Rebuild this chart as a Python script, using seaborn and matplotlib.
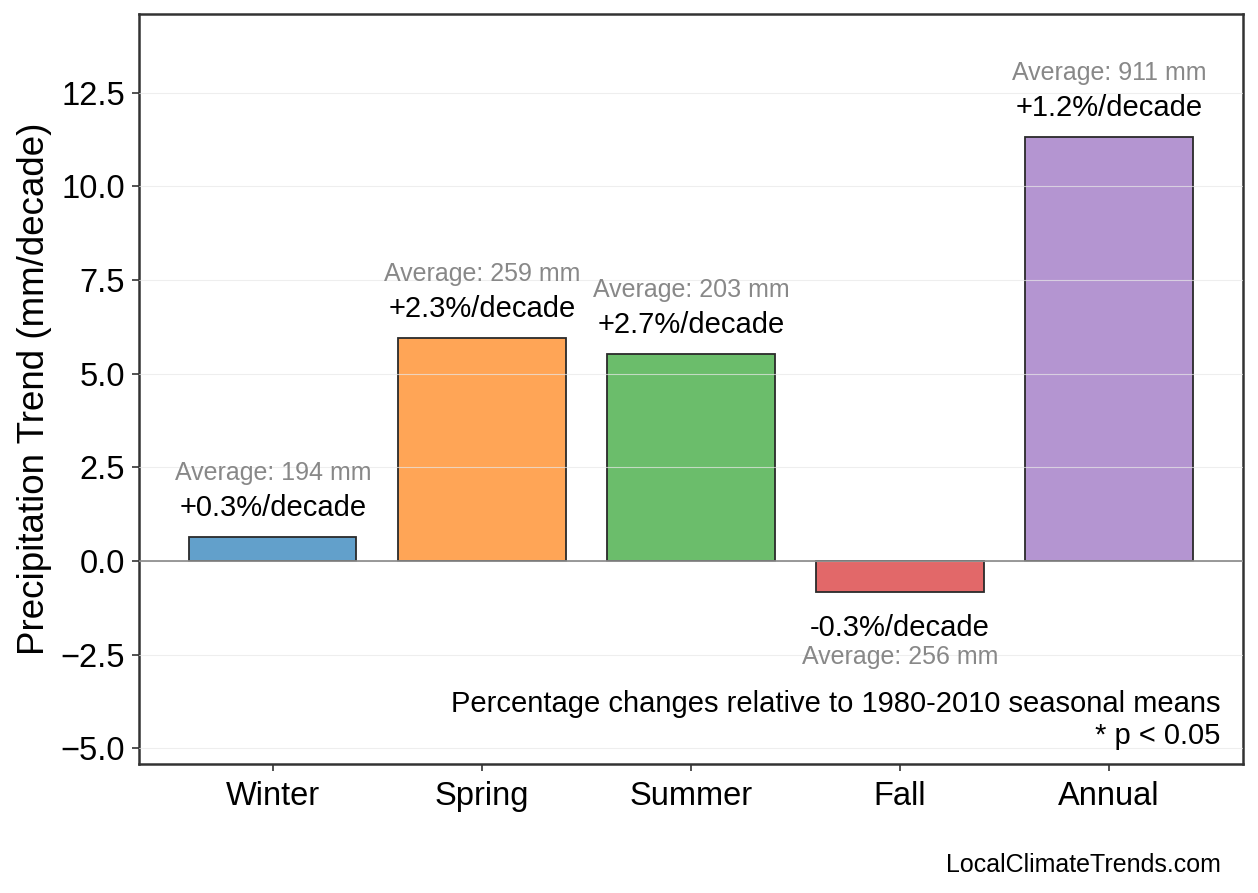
import matplotlib
matplotlib.use("Agg")
import matplotlib.pyplot as plt
import matplotlib.colors as mcolors
import matplotlib.ticker as mticker
import seaborn as sns
import pandas as pd

categories = ["Winter", "Spring", "Summer", "Fall", "Annual"]
trend_mm = [0.64, 5.96, 5.53, -0.83, 11.32]
pct_labels = ["+0.3%/decade", "+2.3%/decade", "+2.7%/decade", "-0.3%/decade", "+1.2%/decade"]
avg_mm = [194, 259, 203, 256, 911]
base_colors = ["#1f77b4", "#ff7f0e", "#2ca02c", "#d62728", "#9467bd"]
yticks = [-5.0, -2.5, 0.0, 2.5, 5.0, 7.5, 10.0, 12.5]


def blend(c, a=0.7):
    r, g, b = mcolors.to_rgb(c)
    return (a * r + (1 - a), a * g + (1 - a), a * b + (1 - a))


palette = [blend(c) for c in base_colors]

sns.set_theme(style="white")
plt.rcParams["font.family"] = ["Liberation Sans", "DejaVu Sans"]

fig = plt.figure(figsize=(12.58, 8.93), dpi=100)
ax = fig.add_axes([0.1105, 0.1445, 0.8775, 0.8398])

df = pd.DataFrame({"cat": categories, "val": trend_mm})
sns.barplot(data=df, x="cat", y="val", hue="cat", palette=palette, legend=False,
            saturation=1, width=0.8, edgecolor="#2a2a2a", linewidth=1.3, ax=ax)

ax.set_xlim(-0.64, 4.64)
ax.set_ylim(-5.42, 14.6)
ax.set_yticks(yticks)
ax.yaxis.set_major_formatter(mticker.FuncFormatter(lambda v, p: f"{v:.1f}".replace("-", "\u2212")))
ax.set_axisbelow(False)
ax.grid(axis="y", color="#e8e8e8", linewidth=0.8, alpha=0.7)
ax.axhline(0, color="#888888", linewidth=1.2, zorder=3)

for s in ax.spines.values():
    s.set_color("#333333")
    s.set_linewidth(1.8)
    s.set_visible(True)

ax.tick_params(axis="both", which="both", length=5, width=1.2, color="#333333",
               labelsize=23.5, labelcolor="black", left=True, bottom=True, pad=5)
ax.tick_params(axis="x", pad=7)
ax.set_xlabel("")
ax.set_ylabel("Precipitation Trend (mm/decade)", fontsize=26.5, color="black", labelpad=6)

for i, (v, lab, avg) in enumerate(zip(trend_mm, pct_labels, avg_mm)):
    if v >= 0:
        o1, o2 = 21.0, 46.2
    else:
        o1, o2 = -26.0, -46.8
    ax.annotate(lab, xy=(i, v), xytext=(0, o1), textcoords="offset points",
                ha="center", va="center", fontsize=21, color="black", zorder=4)
    ax.annotate(f"Average: {avg} mm", xy=(i, v), xytext=(0, o2), textcoords="offset points",
                ha="center", va="center", fontsize=18, color="#888888", zorder=4)

ax.text(0.98, 0.019, "Percentage changes relative to 1980-2010 seasonal means\n* p < 0.05",
        transform=ax.transAxes, ha="right", va="bottom", multialignment="right",
        fontsize=21, color="black", linespacing=1.15)

fig.text(0.9706, 0.031, "LocalClimateTrends.com", ha="right", va="center",
         fontsize=18, color="black")

fig.savefig("out.png", dpi=100)
